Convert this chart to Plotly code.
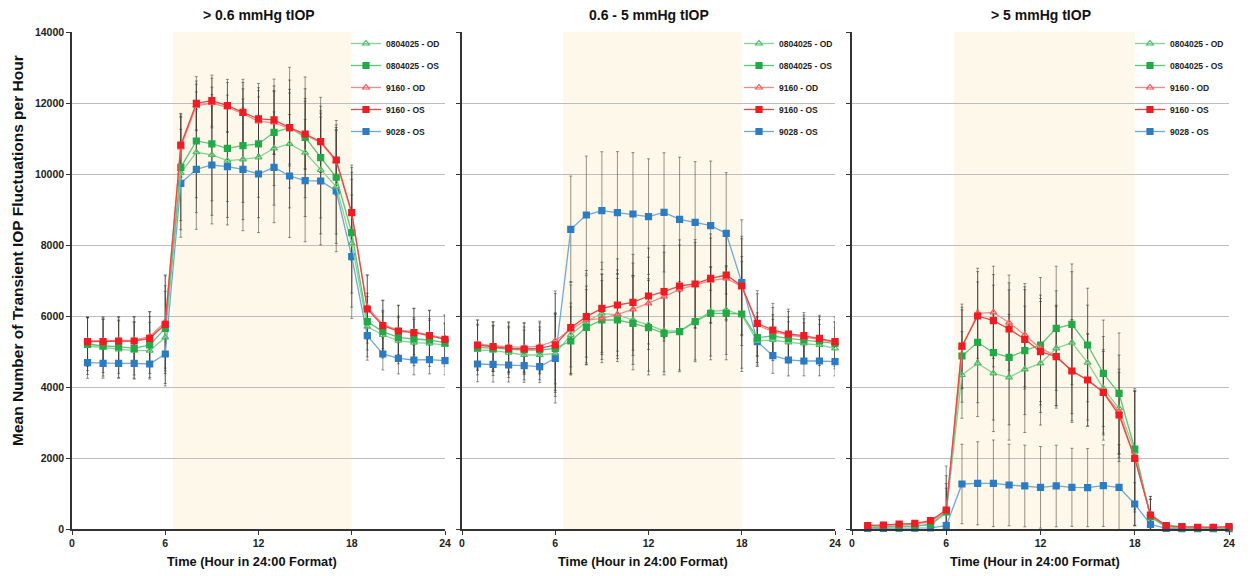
import plotly.graph_objects as go

W, H = 1250, 576

hours = list(range(1, 25))
x_ticks = [0, 6, 12, 18, 24]
y_ticks = [0, 2000, 4000, 6000, 8000, 10000, 12000, 14000]
panel_titles = ["> 0.6 mmHg tIOP", "0.6 - 5 mmHg tIOP", "> 5 mmHg tIOP"]
x_title = "Time (Hour in 24:00 Format)"
y_title = "Mean Number of Transient IOP Fluctuations per Hour"
series_names = ["0804025 - OD", "0804025 - OS", "9160 - OD", "9160 - OS", "9028 - OS"]
light_start, light_end = 6.5, 18

# ---------- Panel 1: > 0.6 mmHg ----------
p1_0804025_od = [5155, 5108, 5061, 5023, 5023, 5399, 10029, 10612, 10536, 10376, 10414, 10470,
                 10724, 10846, 10602, 10113, 9643, 8048, 5700, 5465, 5305, 5249, 5230, 5183]
p1_0804025_os = [5211, 5155, 5136, 5089, 5183, 5653, 10188, 10930, 10846, 10724, 10799, 10846,
                 11175, 11306, 11034, 10460, 9908, 8347, 5841, 5559, 5399, 5352, 5324, 5249]
p1_9160_od = [5300, 5300, 5310, 5320, 5420, 5830, 10750, 11920, 12000, 11880, 11700, 11480,
              11450, 11280, 11100, 10880, 10360, 8880, 6250, 5760, 5600, 5560, 5470, 5370]
p1_9160_os = [5277, 5277, 5296, 5296, 5371, 5766, 10817, 11992, 12066, 11925, 11738, 11550,
              11522, 11306, 11127, 10911, 10395, 8911, 6197, 5727, 5577, 5530, 5446, 5343]
p1_9028_os = [4686, 4667, 4667, 4667, 4648, 4930, 9738, 10132, 10254, 10206, 10132, 10000,
              10188, 9944, 9812, 9803, 9521, 7671, 5446, 4930, 4808, 4761, 4770, 4742]
p1_sd_0804025_od = [800, 800, 800, 800, 800, 1300, 1600, 1700, 1700, 1600, 1700, 1700,
                    1600, 1800, 1800, 1800, 1600, 1800, 850, 650, 650, 650, 650, 600]
p1_sd_0804025_os = [750, 750, 750, 750, 800, 1200, 1500, 1600, 1600, 1500, 1600, 1500,
                    1500, 1700, 1700, 1700, 1600, 1700, 800, 600, 600, 600, 600, 550]
p1_sd_9160_od = [650, 650, 650, 650, 700, 1300, 850, 700, 700, 700, 880, 950,
                 900, 1000, 950, 830, 950, 1300, 900, 680, 690, 650, 680, 650]
p1_sd_9160_os = [700, 700, 690, 690, 750, 1390, 890, 750, 720, 740, 930, 1000,
                 960, 1080, 1000, 870, 990, 1340, 960, 720, 730, 690, 720, 690]
p1_sd_9028_os = [440, 420, 420, 420, 380, 900, 1520, 1690, 1660, 1640, 1730, 1650,
                 1560, 1730, 1720, 1800, 1710, 1740, 690, 450, 440, 420, 400, 400]

# ---------- Panel 2: 0.6 - 5 mmHg ----------
p2_0804025_od = [5042, 5023, 4967, 4901, 4901, 4948, 5465, 5841, 6076, 6029, 5887, 5747,
                 5578, 5578, 5860, 6122, 6169, 6029, 5296, 5324, 5258, 5230, 5183, 5089]
p2_0804025_os = [5117, 5089, 5061, 5042, 5042, 5089, 5296, 5681, 5887, 5887, 5794, 5671,
                 5511, 5559, 5841, 6076, 6076, 6057, 5390, 5437, 5371, 5324, 5296, 5230]
p2_9160_od = [5211, 5155, 5136, 5117, 5155, 5305, 5624, 5887, 5935, 6048, 6189, 6357,
              6544, 6751, 6873, 6995, 7062, 6826, 5747, 5559, 5465, 5399, 5343, 5249]
p2_9160_os = [5183, 5136, 5089, 5070, 5089, 5183, 5671, 5981, 6216, 6310, 6385, 6563,
              6686, 6845, 6902, 7062, 7155, 6845, 5794, 5606, 5493, 5446, 5371, 5277]
p2_9028_os = [4648, 4639, 4620, 4601, 4573, 4808, 8442, 8845, 8967, 8911, 8873, 8798,
              8920, 8723, 8639, 8545, 8329, 6939, 5277, 4883, 4761, 4733, 4733, 4714]
p2_sd_0804025_od = [700, 700, 700, 700, 700, 1100, 900, 1000, 1100, 1150, 1250, 1300,
                    1150, 1100, 1100, 1250, 1250, 1500, 680, 580, 580, 580, 580, 580]
p2_sd_0804025_os = [650, 650, 650, 650, 650, 1000, 960, 1060, 1110, 1170, 1310, 1330,
                    1170, 1130, 1130, 1310, 1310, 1620, 700, 600, 600, 600, 600, 600]
p2_sd_9160_od = [680, 680, 700, 700, 700, 1400, 1250, 1250, 1250, 1250, 1300, 1300,
                 1250, 1250, 1200, 1200, 1200, 1350, 880, 680, 660, 630, 630, 580]
p2_sd_9160_os = [700, 700, 720, 720, 720, 1450, 1300, 1300, 1300, 1300, 1350, 1350,
                 1300, 1300, 1250, 1250, 1250, 1400, 920, 750, 700, 650, 650, 700]
p2_sd_9028_os = [500, 500, 480, 470, 450, 1260, 1500, 1660, 1660, 1720, 1730, 1630,
                 1680, 1750, 1710, 1820, 1710, 1770, 700, 500, 450, 420, 420, 400]

# ---------- Panel 3: > 5 mmHg ----------
p3_0804025_od = [40, 50, 70, 80, 110, 450, 4338, 4667, 4385, 4273, 4498, 4667,
                 5089, 5249, 4686, 3963, 3399, 2179, 330, 60, 35, 30, 30, 35]
p3_0804025_os = [50, 60, 80, 90, 130, 480, 4873, 5259, 4967, 4836, 5023, 5183,
                 5653, 5766, 5183, 4385, 3823, 2254, 347, 66, 40, 30, 30, 40]
p3_9160_od = [80, 100, 120, 140, 200, 500, 5100, 6076, 6104, 5812, 5465, 5089,
              4873, 4451, 4197, 3850, 3305, 1991, 420, 80, 60, 45, 45, 60]
p3_9160_os = [94, 113, 141, 160, 235, 535, 5155, 6000, 5868, 5634, 5343, 4995,
              4854, 4451, 4197, 3850, 3211, 1991, 394, 94, 66, 47, 47, 66]
p3_9028_os = [19, 20, 22, 25, 30, 94, 1268, 1287, 1287, 1240, 1212, 1174,
              1212, 1174, 1165, 1221, 1174, 704, 131, 19, 10, 8, 8, 10]
p3_sd_0804025_od = [40, 50, 60, 60, 80, 700, 1220, 1500, 1640, 1770, 1780, 1740,
                    1620, 2000, 1620, 1460, 1500, 1700, 500, 60, 40, 30, 30, 30]
p3_sd_0804025_os = [40, 50, 60, 60, 80, 800, 1300, 1700, 1900, 1900, 1800, 1900,
                    1750, 1700, 1600, 1500, 1700, 1700, 500, 60, 40, 30, 30, 30]
p3_sd_9160_od = [60, 60, 70, 70, 90, 1000, 1150, 1270, 1300, 1340, 1450, 1500,
                 1400, 1400, 1300, 1200, 1200, 1900, 500, 80, 50, 40, 40, 40]
p3_sd_9160_os = [60, 60, 70, 70, 90, 1240, 1180, 1250, 1300, 1300, 1400, 1500,
                 1450, 1450, 1300, 1150, 1200, 1900, 520, 80, 50, 40, 40, 40]
p3_sd_9028_os = [20, 20, 20, 20, 30, 100, 1120, 1170, 1220, 1150, 1150, 1150,
                 1150, 1100, 1100, 1150, 1200, 600, 100, 20, 10, 10, 10, 10]

panels = [
    [p1_0804025_od, p1_0804025_os, p1_9160_od, p1_9160_os, p1_9028_os],
    [p2_0804025_od, p2_0804025_os, p2_9160_od, p2_9160_os, p2_9028_os],
    [p3_0804025_od, p3_0804025_os, p3_9160_od, p3_9160_os, p3_9028_os],
]
panel_sds = [
    [p1_sd_0804025_od, p1_sd_0804025_os, p1_sd_9160_od, p1_sd_9160_os, p1_sd_9028_os],
    [p2_sd_0804025_od, p2_sd_0804025_os, p2_sd_9160_od, p2_sd_9160_os, p2_sd_9028_os],
    [p3_sd_0804025_od, p3_sd_0804025_os, p3_sd_9160_od, p3_sd_9160_os, p3_sd_9028_os],
]

# ---------- styles ----------
line_colors = ["#86D396", "#5DC577", "#F68A8A", "#EE4545", "#6FA8D8"]
marker_colors = ["#4CBB64", "#22AA48", "#F25C5C", "#EE1C24", "#2B7CC2"]
symbols = ["triangle-up-open", "square", "triangle-up-open", "square", "square"]
marker_sizes = [6, 6, 6, 6, 6]
draw_order = [4, 0, 1, 2, 3]  # blue first, red on top

# pixel geometry
x_dom_px = [(72, 445), (462, 835), (852, 1229)]
x_title_center_px = [252, 643, 1035]
y_bot_px, y_top_px = 529, 32
font_family = "Liberation Sans, Arial, sans-serif"

fig = go.Figure()

for p in range(3):
    xa = "x" if p == 0 else f"x{p+1}"
    ya = "y" if p == 0 else f"y{p+1}"
    lg = "legend" if p == 0 else f"legend{p+1}"
    # error bars underneath
    for i in draw_order:
        fig.add_trace(go.Scatter(
            x=hours, y=panels[p][i], xaxis=xa, yaxis=ya, mode="markers",
            marker=dict(size=1, color="rgba(0,0,0,0)"),
            error_y=dict(type="data", array=panel_sds[p][i], color="rgba(60,56,48,0.6)",
                         thickness=0.9, width=1.5),
            showlegend=False, hoverinfo="skip", cliponaxis=False))
    for i in draw_order:
        fig.add_trace(go.Scatter(
            x=hours, y=panels[p][i], xaxis=xa, yaxis=ya, mode="lines+markers",
            name=series_names[i], legend=lg, legendrank=i + 1, legendgroup=f"g{p}_{i}",
            line=dict(color=line_colors[i], width=1.3),
            marker=dict(symbol=symbols[i], size=marker_sizes[i], color=marker_colors[i],
                        line=dict(color=marker_colors[i], width=1.2)),
            cliponaxis=False))

layout = dict(
    width=W, height=H, margin=dict(l=0, r=0, t=0, b=0, autoexpand=False),
    paper_bgcolor="white", plot_bgcolor="white",
    font=dict(family=font_family, color="#222"),
    shapes=[], annotations=[],
)

ydom = [(H - y_bot_px) / H, (H - y_top_px) / H]
legend_text_px = [387, 780, 1171]
for p in range(3):
    sfx = "" if p == 0 else str(p + 1)
    x0, x1 = x_dom_px[p]
    layout[f"xaxis{sfx}"] = dict(
        domain=[x0 / W, x1 / W], range=[0, 24], anchor=f"y{sfx}", automargin=False,
        tickvals=x_ticks, ticks="outside", ticklen=4, tickwidth=1.2, tickcolor="#333",
        showline=True, linecolor="#333", linewidth=1.5, showgrid=False, zeroline=False,
        tickfont=dict(size=10.5, family=font_family, weight="bold", color="#222"))
    layout[f"yaxis{sfx}"] = dict(
        domain=ydom, range=[0, 14000], anchor=f"x{sfx}", automargin=False,
        tickvals=y_ticks, tickformat="d", ticks="outside", ticklen=4, tickwidth=1.2,
        tickcolor="#333", showline=True, linecolor="#333", linewidth=1.5,
        showgrid=True, gridcolor="#BDBDBD", gridwidth=1, zeroline=False,
        showticklabels=(p == 0),
        tickfont=dict(size=10.5, family=font_family, weight="bold", color="#222"))
    layout[f"legend{sfx}"] = dict(
        x=(legend_text_px[p] - 41) / W, xanchor="left",
        y=(H - 29) / H, yanchor="top",
        bgcolor="rgba(0,0,0,0)", borderwidth=0,
        font=dict(size=8.5, family=font_family, weight="bold", color="#222"),
        itemwidth=30, traceorder="grouped", tracegroupgap=3)
    layout["shapes"].append(dict(
        type="rect", xref=f"x{sfx}", yref=f"y{sfx}",
        x0=light_start, x1=light_end, y0=0, y1=14000,
        fillcolor="#FEF8EA", line=dict(width=0), layer="below"))
    cx = (x0 + x1) / 2 / W
    layout["annotations"].append(dict(
        text=panel_titles[p], xref="paper", yref="paper", x=cx, y=(H - 15) / H,
        xanchor="center", yanchor="middle", showarrow=False,
        font=dict(size=14, family=font_family, weight="bold", color="#111")))
    layout["annotations"].append(dict(
        text=x_title, xref="paper", yref="paper", x=x_title_center_px[p] / W,
        y=(H - 561) / H, xanchor="center", yanchor="middle", showarrow=False,
        font=dict(size=12.8, family=font_family, weight="bold", color="#111")))

layout["annotations"].append(dict(
    text=y_title, xref="paper", yref="paper", x=18 / W, y=(H - 251) / H,
    xanchor="center", yanchor="middle", showarrow=False, textangle=-90,
    font=dict(size=15.5, family=font_family, weight="bold", color="#111")))

fig.update_layout(**layout)
fig.write_html("out.html")
